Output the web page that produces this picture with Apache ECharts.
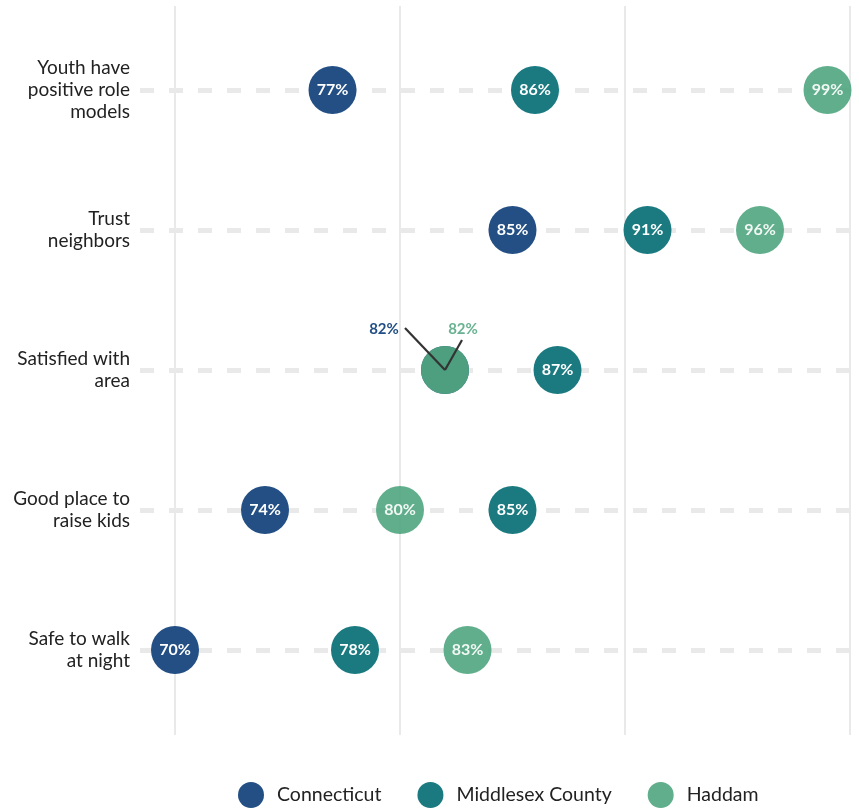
<!DOCTYPE html>
<html><head><meta charset="utf-8">
<script src="https://cdn.jsdelivr.net/npm/echarts@6/dist/echarts.min.js"></script>
<style>html,body{margin:0;padding:0;background:#fff}#c{width:859px;height:809px}</style>
</head><body><div id="c"></div>
<script>
const categories = ['Youth have\npositive role\nmodels', 'Trust\nneighbors', 'Satisfied with\narea', 'Good place to\nraise kids', 'Safe to walk\nat night'];
const seriesNames = ['Connecticut', 'Middlesex County', 'Haddam'];
const connecticut = [77, 85, 82, 74, 70];
const middlesex = [86, 91, 87, 85, 78];
const haddam = [99, 96, 82, 80, 83];
const gridValues = [70, 80, 90, 100];
const colors = ['#234f84', '#1a7a80', '#51a680'];
const opacities = [1, 1, 0.915];
const FONT = 'Lato, "Noto Sans", sans-serif';

const allSeries = [connecticut, middlesex, haddam];
function overlaps(i) { return connecticut[i] === haddam[i]; }
// label offsets (px) from the point centre for coinciding points, and leader line end offsets
const labelOffsets = { 0: [-61, -41], 2: [18, -41] };
const leaderEnds = { 0: [-40, -42], 2: [17, -30] };

const chart = echarts.init(document.getElementById('c'), null, { renderer: 'canvas' });

const series = allSeries.map((vals, s) => ({
  name: seriesNames[s],
  type: 'scatter',
  xAxisIndex: 0,
  yAxisIndex: 0,
  symbol: 'circle',
  symbolSize: 48,
  z: 3 + s,
  itemStyle: { color: colors[s], opacity: opacities[s] },
  emphasis: { disabled: true },
  label: {
    show: true,
    position: 'inside',
    color: '#fff',
    fontWeight: 'bold',
    fontSize: 16,
    fontFamily: FONT,
    formatter: p => p.value[0] + '%'
  },
  labelLayout: function (p) {
    if (labelOffsets[s] && overlaps(p.dataIndex)) {
      return { dx: labelOffsets[s][0], dy: labelOffsets[s][1] };
    }
    return {};
  },
  data: vals.map((v, i) => {
    if (labelOffsets[s] && overlaps(i)) {
      return { value: [v, i], label: { color: s === 2 ? '#5aab87' : '#234f84', fontSize: 15 } };
    }
    return { value: [v, i] };
  }),
  markLine: s === 0 ? {
    silent: true,
    symbol: 'none',
    z: 1,
    label: { show: false },
    emphasis: { disabled: true },
    data: gridValues.map(v => ({ xAxis: v, lineStyle: { color: '#e2e2e2', width: 1.5, type: 'solid' } }))
      .concat(categories.map((c, i) => ({ yAxis: i, lineStyle: { color: '#e9e9e9', width: 5, type: [14, 15] } })))
  } : undefined
}));

chart.setOption({
  animation: false,
  backgroundColor: '#fff',
  textStyle: { fontFamily: FONT },
  grid: [
    { left: 140, right: 0, top: 6, bottom: 74 },
    { left: 140, width: 1, top: 20, height: 700 }
  ],
  xAxis: [
    { gridIndex: 0, type: 'value', min: 70 - 35 / 22.5, max: 100.4, show: false, splitLine: { show: false } },
    { gridIndex: 1, type: 'value', show: false }
  ],
  yAxis: [
    { gridIndex: 0, type: 'value', inverse: true, min: -0.6, max: 4.607, show: false, splitLine: { show: false } },
    {
      gridIndex: 1, type: 'category', inverse: true, data: categories,
      axisLine: { show: false }, axisTick: { show: false }, splitLine: { show: false },
      axisLabel: { fontSize: 19, lineHeight: 22, color: '#222', margin: 10, fontFamily: FONT, align: 'right' }
    }
  ],
  legend: {
    data: seriesNames,
    icon: 'circle',
    itemWidth: 26,
    itemHeight: 26,
    itemGap: 36,
    left: 233,
    top: 777,
    textStyle: { fontSize: 19.5, color: '#222', fontFamily: FONT, padding: [0, 0, 0, 8] }
  },
  series: series
});

// leader lines for coinciding points, anchored at the data point via the chart's scales
const graphics = [];
[0, 2].forEach(s => {
  allSeries[s].forEach((v, i) => {
    if (!overlaps(i)) return;
    const c = chart.convertToPixel({ seriesIndex: s }, [v, i]);
    graphics.push({
      type: 'line', z: 100, silent: true,
      shape: { x1: c[0], y1: c[1], x2: c[0] + leaderEnds[s][0], y2: c[1] + leaderEnds[s][1] },
      style: { stroke: '#333', lineWidth: 2.2 }
    });
  });
});
chart.setOption({ graphic: graphics });
</script>
</body></html>
